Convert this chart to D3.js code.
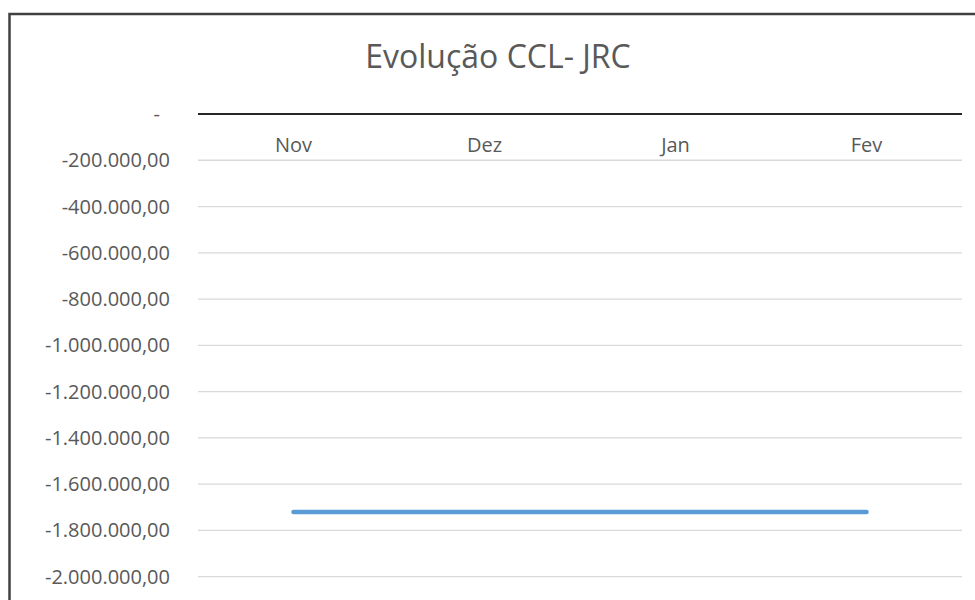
<!DOCTYPE html>
<html>
<head>
<meta charset="utf-8">
<script src="https://cdn.jsdelivr.net/npm/d3@7"></script>
<style>
    body { margin: 0; background: #fff; }
    text { font-family: "Open Sans", sans-serif; fill: #595959; }
</style>
</head>
<body>
<div id="chart"></div>
<script>

// chart data
var months = ["Nov", "Dez", "Jan", "Fev"];
var ccl = [-1720000, -1720000, -1720000, -1720000];
var yTicks = [0, -200000, -400000, -600000, -800000, -1000000, -1200000, -1400000, -1600000, -1800000, -2000000];
var chartTitle = "Evolução CCL- JRC";

var ptBR = d3.formatLocale({decimal: ",", thousands: ".", grouping: [3], currency: ["", ""], minus: "-"});
var fmt = ptBR.format(",.2f");

var width = 975, height = 600;
var margin = { top: 114, right: 13, bottom: 23.3, left: 198 };

var svg = d3.select("#chart").append("svg")
    .attr("width", width)
    .attr("height", height);

// chart area border (right and bottom sides fall outside the picture)
svg.append("rect")
    .attr("x", 9.5)
    .attr("y", 14)
    .attr("width", 1000)
    .attr("height", 1000)
    .attr("fill", "none")
    .attr("stroke", "#404040")
    .attr("stroke-width", 2.5);

svg.append("text")
    .attr("x", 498)
    .attr("y", 68)
    .attr("text-anchor", "middle")
    .style("font-size", "32px")
    .text(chartTitle);

var x = d3.scaleBand()
    .domain(months)
    .range([margin.left, width - margin.right])
    .padding(0);

var y = d3.scaleLinear()
    .domain([-2000000, 0])
    .range([height - margin.bottom, margin.top]);

// gridlines
svg.append("g")
    .selectAll("line")
    .data(yTicks.filter(function(d){ return d != 0 }))
    .enter()
    .append("line")
    .attr("x1", margin.left)
    .attr("x2", width - margin.right)
    .attr("y1", function(d){ return y(d) })
    .attr("y2", function(d){ return y(d) })
    .attr("stroke", "#d9d9d9")
    .attr("stroke-width", 1.3);

// y labels, zero shown as "-" like the accounting format (padded a bit)
svg.append("g")
    .selectAll("text")
    .data(yTicks)
    .enter()
    .append("text")
    .attr("x", function(d){ return d == 0 ? 160 : 170 })
    .attr("y", function(d){ return y(d) })
    .attr("dy", "0.35em")
    .attr("text-anchor", "end")
    .style("font-size", "20px")
    .text(function(d){ return d == 0 ? "-" : fmt(d) });

// zero line (category axis)
svg.append("line")
    .attr("x1", margin.left)
    .attr("x2", width - margin.right)
    .attr("y1", y(0))
    .attr("y2", y(0))
    .attr("stroke", "#262626")
    .attr("stroke-width", 2);

svg.append("g")
    .selectAll("text")
    .data(months)
    .enter()
    .append("text")
    .attr("x", function(d){ return x(d) + x.bandwidth() / 2 })
    .attr("y", 151.5)
    .attr("text-anchor", "middle")
    .style("font-size", "20px")
    .text(function(d){ return d });

var line = d3.line()
    .x(function(d, i){ return x(months[i]) + x.bandwidth() / 2 })
    .y(function(d){ return y(d) });

svg.append("path")
    .datum(ccl)
    .attr("d", line)
    .attr("fill", "none")
    .attr("stroke", "#5b9bd5")
    .attr("stroke-width", 4.5)
    .attr("stroke-linecap", "round")
    .attr("stroke-linejoin", "round");

</script>
</body>
</html>
